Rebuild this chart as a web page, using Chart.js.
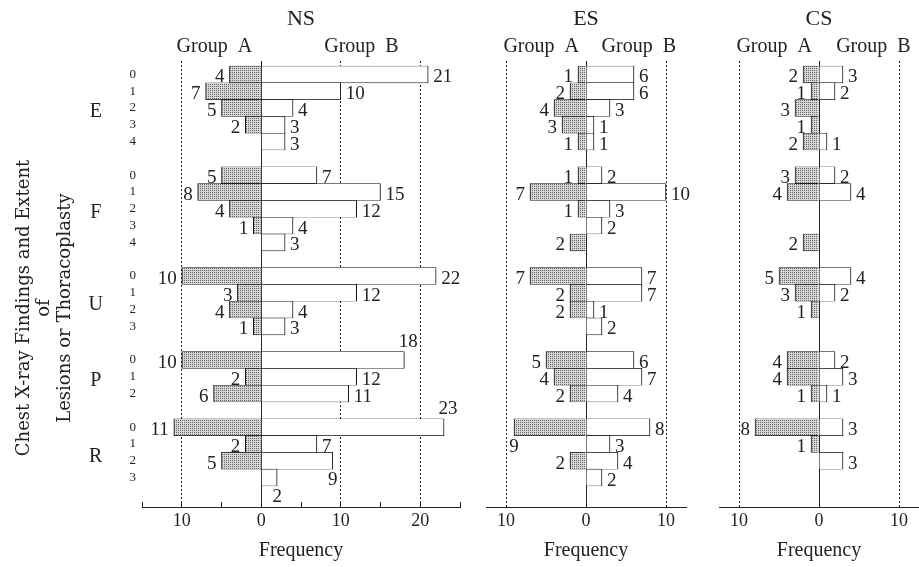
<!DOCTYPE html>
<html>
<head>
<meta charset="utf-8">
<script src="https://cdn.jsdelivr.net/npm/chart.js@4"></script>
<style>
  html, body { margin: 0; padding: 0; background: #fff; }
  #wrap { position: relative; width: 919px; height: 567px; overflow: hidden; }
  canvas { position: absolute; top: 0; }
</style>
</head>
<body>
<div id="wrap">
  <canvas id="ns" width="470" height="567" style="left:0"></canvas>
  <canvas id="es" width="230" height="567" style="left:470px"></canvas>
  <canvas id="cs" width="219" height="567" style="left:700px"></canvas>
</div>
<script>
// ─────────────────────────────────────────
// Chest X-ray findings — back-to-back frequency bars, Group A vs Group B
// ─────────────────────────────────────────

// Findings groups and their extent grades (rows, top to bottom)
const GROUPS = ['E', 'F', 'U', 'P', 'R'];
const GRADES = [
  ['0', '1', '2', '3', '4'],
  ['0', '1', '2', '3', '4'],
  ['0', '1', '2', '3'],
  ['0', '1', '2'],
  ['0', '1', '2', '3']
];

// Frequencies, one inner list per group, grade by grade
const NS_A = [[4, 7, 5, 2, 0], [5, 8, 4, 1, 0], [10, 3, 4, 1], [10, 2, 6], [11, 2, 5, 0]];
const NS_B = [[21, 10, 4, 3, 3], [7, 15, 12, 4, 3], [22, 12, 4, 3], [18, 12, 11], [23, 7, 9, 2]];
const ES_A = [[1, 2, 4, 3, 1], [1, 7, 1, 0, 2], [7, 2, 2, 0], [5, 4, 2], [9, 0, 2, 0]];
const ES_B = [[6, 6, 3, 1, 1], [2, 10, 3, 2, 0], [7, 7, 1, 2], [6, 7, 4], [8, 3, 4, 2]];
const CS_A = [[2, 1, 3, 1, 2], [3, 4, 0, 0, 2], [5, 3, 1, 0], [4, 4, 1], [8, 1, 0, 0]];
const CS_B = [[3, 2, 0, 0, 1], [2, 4, 0, 0, 0], [4, 2, 0, 0], [2, 3, 1], [3, 0, 3, 0]];

const SIDE_TITLE = ['Chest X-ray Findings and Extent', 'of', 'Lesions or Thoracoplasty'];

const INK = '#222';
const SERIF = '"Liberation Serif", serif';
Chart.defaults.font.family = SERIF;
Chart.defaults.color = INK;

// Row slots: grades of each group, one empty slot between groups
const ROW_LABELS = [];
const GROUP_AT = [];
GRADES.forEach((g, i) => {
  if (i) ROW_LABELS.push('');
  GROUP_AT.push(ROW_LABELS.length + (g.length - 1) / 2);
  ROW_LABELS.push(...g);
});
const SLOTS = ROW_LABELS.map((_, i) => i);

function flat(series, sign) {
  const out = [];
  series.forEach((g, i) => {
    if (i) out.push(null);
    g.forEach(v => out.push(v ? sign * v : null));
  });
  return out;
}

// fine halftone dots for Group A
function stipple(ctx) {
  const c = document.createElement('canvas');
  c.width = c.height = 2;
  const g = c.getContext('2d');
  g.fillStyle = '#d6d6d6'; g.fillRect(0, 0, 2, 2);
  g.fillStyle = '#666'; g.fillRect(0, 0, 1, 1);
  return ctx.createPattern(c, 'repeat');
}

// Numbers written next to the bar ends
const valueLabels = {
  id: 'valueLabels',
  afterDatasetsDraw(chart, args, opts) {
    const { ctx } = chart;
    const place = opts.place || {};
    ctx.save();
    ctx.font = '19px ' + SERIF;
    ctx.fillStyle = INK;
    ctx.textBaseline = 'middle';
    chart.data.datasets.forEach((ds, di) => {
      const side = di === 0 ? -1 : 1;
      chart.getDatasetMeta(di).data.forEach((bar, i) => {
        const v = ds.data[i];
        if (v == null) return;
        const txt = String(Math.abs(v));
        const p = place[(di ? 'B' : 'A') + i];
        const half = bar.height / 2;
        if (p === 'above') {
          ctx.textAlign = 'center';
          ctx.fillText(txt, bar.x + 4, bar.y - half - 10);
        } else if (p === 'below') {
          ctx.textAlign = 'center';
          ctx.fillText(txt, bar.x, bar.y + half + 11);
        } else {
          ctx.textAlign = side < 0 ? 'right' : 'left';
          ctx.fillText(txt, bar.x + side * 5, bar.y + 3);
        }
      });
    });
    ctx.restore();
  }
};

// Rotated three-line title at the far left, a little below the plot centre
const sideTitle = {
  id: 'sideTitle',
  afterDraw(chart, args, opts) {
    if (!opts.lines) return;
    const { ctx, chartArea } = chart;
    ctx.save();
    ctx.font = opts.size + 'px "DejaVu Serif", serif';
    ctx.fillStyle = INK;
    ctx.textAlign = 'center';
    ctx.textBaseline = 'middle';
    ctx.translate(opts.x, (chartArea.top + chartArea.bottom) / 2 + opts.dy);
    ctx.rotate(-Math.PI / 2);
    opts.lines.forEach((t, i) => ctx.fillText(t, 0, i * opts.gap));
    ctx.restore();
  }
};

function buildPanel(id, name, A, B, cfg) {
  const ctx = document.getElementById(id).getContext('2d');
  const [min, max] = cfg.range;

  const scales = {
    x: {
      type: 'linear', min, max, stacked: true, position: 'bottom', z: 1,
      afterBuildTicks: s => {
        const t = [];
        for (let v = Math.ceil(min / 5) * 5; v <= max; v += 5) t.push({ value: v });
        s.ticks = t;
      },
      afterFit: s => { s.height = 60; },
      grid: {
        drawTicks: cfg.ticks, tickLength: -5, tickColor: INK,
        color: c => (c.tick && c.tick.value % 10 === 0 && c.tick.value !== 0) ? INK : 'transparent'
      },
      border: { color: INK, width: 1, dash: [2, 2] },
      ticks: {
        autoSkip: false, maxRotation: 0, padding: cfg.ticks ? 8 : 3,
        font: { size: 18 },
        callback: v => v % 10 === 0 ? String(Math.abs(v)) : ''
      },
      title: { display: true, text: 'Frequency', font: { size: 20 }, padding: { top: 0, bottom: 4 } }
    },
    x2: {
      type: 'linear', min, max, position: 'top', z: 1,
      afterBuildTicks: s => { s.ticks = [cfg.heads[0], 0, cfg.heads[1]].map(v => ({ value: v })); },
      afterFit: s => { s.height = 28.6; },
      grid: { drawTicks: false, color: c => (c.tick && c.tick.value === 0) ? INK : 'transparent' },
      border: { display: false },
      ticks: {
        autoSkip: false, maxRotation: 0, padding: 2, font: { size: 20 },
        callback: v => v < 0 ? 'Group  A' : v > 0 ? 'Group  B' : ''
      }
    },
    y: {
      type: 'linear', reverse: true, min: -0.8, max: 25.75, stacked: true, offset: false,
      display: cfg.rows, weight: 0,
      afterBuildTicks: s => { s.ticks = SLOTS.map(v => ({ value: v })); },
      afterFit: s => { if (cfg.rows) s.width = 32; },
      grid: { display: false, drawTicks: false }, border: { display: false },
      ticks: { autoSkip: false, padding: 6, font: { size: 13 }, callback: v => ROW_LABELS[v] ?? '' }
    }
  };

  if (cfg.rows) {
    scales.yg = {
      type: 'linear', reverse: true, min: -0.8, max: 25.75, offset: false,
      position: 'left', weight: 1,
      afterBuildTicks: s => { s.ticks = GROUP_AT.map(v => ({ value: v })); },
      afterFit: s => { s.width = 110; },
      grid: { display: false, drawTicks: false }, border: { display: false },
      ticks: {
        autoSkip: false, padding: 7, crossAlign: 'center', labelOffset: 4, font: { size: 20 },
        callback: (v, i) => GROUPS[i]
      }
    };
  }

  return new Chart(ctx, {
    type: 'bar',
    data: {
      labels: SLOTS,
      datasets: [
        {
          label: 'Group A', data: flat(A, -1), xAxisID: 'x', yAxisID: 'y',
          backgroundColor: stipple(ctx), borderColor: '#111',
          borderWidth: { top: 0.6, bottom: 0.6, left: 1, right: 1 }, borderSkipped: 'start'
        },
        {
          label: 'Group B', data: flat(B, 1), xAxisID: 'x', yAxisID: 'y',
          backgroundColor: '#fff', borderColor: '#111',
          borderWidth: { top: 0.6, bottom: 0.6, left: 1, right: 1 }, borderSkipped: 'start'
        }
      ]
    },
    options: {
      indexAxis: 'y',
      responsive: false,
      animation: false,
      barPercentage: 1,
      categoryPercentage: 1,
      layout: { padding: cfg.pad },
      plugins: {
        legend: { display: false },
        tooltip: { enabled: false },
        title: {
          display: true, text: name, fullSize: false,
          font: { size: 22, weight: 'normal' }, padding: { top: 6, bottom: 0 }, color: INK
        },
        valueLabels: { place: cfg.place },
        sideTitle: cfg.rows ? { lines: SIDE_TITLE, size: 18, x: 24, gap: 20.5, dy: 24 } : {}
      },
      scales
    },
    plugins: [valueLabels, sideTitle]
  });
}

buildPanel('ns', 'NS', NS_A, NS_B, {
  range: [-15, 25], ticks: true, rows: true, heads: [-5.9, 12.6],
  pad: { left: 0, right: 10, top: 0, bottom: 0 },
  place: { B17: 'above', B21: 'above', B23: 'below', B24: 'below' }
});
buildPanel('es', 'ES', ES_A, ES_B, {
  range: [-12.5, 12.5], ticks: false, rows: false, heads: [-5.6, 6.6],
  pad: { left: 16, right: 14, top: 0, bottom: 0 },
  place: { A21: 'below' }
});
buildPanel('cs', 'CS', CS_A, CS_B, {
  range: [-12.5, 12.5], ticks: false, rows: false, heads: [-5.6, 6.8],
  pad: { left: 19, right: 0, top: 0, bottom: 0 },
  place: {}
});
</script>
</body>
</html>
